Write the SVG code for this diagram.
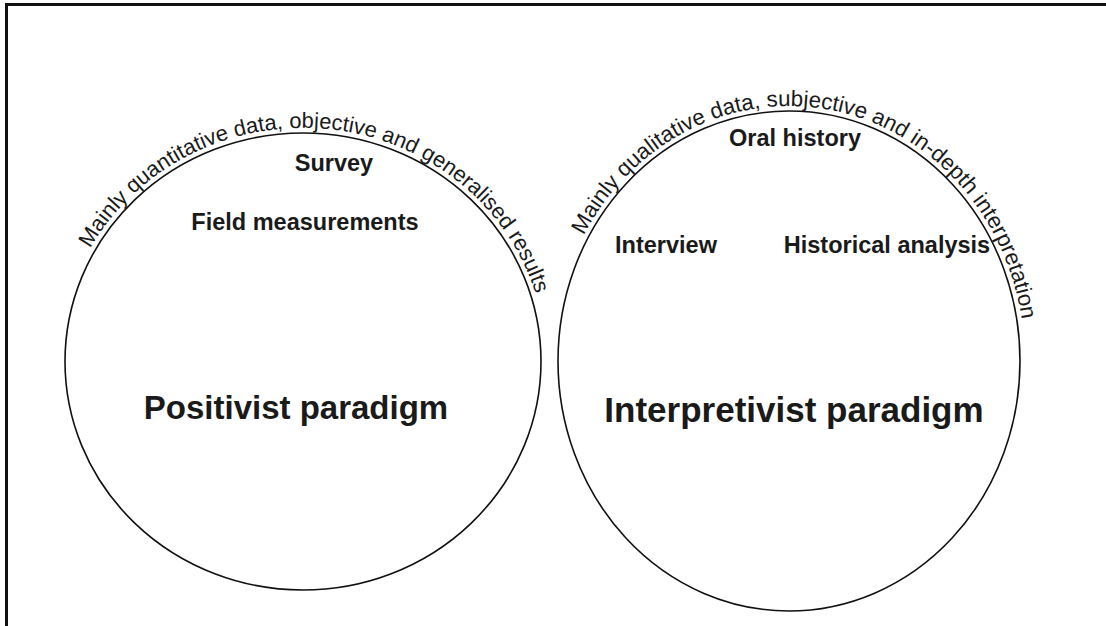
<svg xmlns="http://www.w3.org/2000/svg" xmlns:xlink="http://www.w3.org/1999/xlink" width="1106" height="626" viewBox="0 0 1106 626">
  <style>
    .frame { fill: none; stroke: #111; stroke-width: 3; }
    .ring { fill: none; stroke: #111; stroke-width: 1.6; }
    .arc-label { font-family: "Liberation Sans", Arial, sans-serif; fill: #1a1a1a; }
    .method { font-family: "Liberation Sans", Arial, sans-serif; font-size: 23.5px; font-weight: bold; fill: #1a1a1a; text-anchor: middle; }
    .paradigm { font-family: "Liberation Sans", Arial, sans-serif; font-weight: bold; fill: #1a1a1a; text-anchor: middle; }
  </style>
  <defs>
    <!-- baselines for the curved captions, a few pixels outside each ring, running clockwise from the left -->
    <path id="arc-left" d="M 60 361.5 A 243 233.5 0 1 1 546 361.5 A 243 233.5 0 1 1 60 361.5"/>
    <path id="arc-right" d="M 553 361 A 236 255 0 1 1 1025 361 A 236 255 0 1 1 553 361"/>
  </defs>

  <rect width="1106" height="626" fill="#ffffff"/>
  <rect class="frame" x="6.5" y="4.5" width="1110" height="640"/>

  <g id="positivist">
    <ellipse class="ring" cx="303" cy="361.5" rx="238" ry="228.5"/>
    <text class="arc-label" font-size="21.9"><textPath xlink:href="#arc-left" href="#arc-left" startOffset="399" text-anchor="middle">Mainly quantitative data, objective and generalised results</textPath></text>
    <text class="method" x="334" y="171">Survey</text>
    <text class="method" x="305" y="230">Field measurements</text>
    <text class="paradigm" x="296" y="419" font-size="33">Positivist paradigm</text>
  </g>

  <g id="interpretivist">
    <ellipse class="ring" cx="789" cy="361" rx="231" ry="250"/>
    <text class="arc-label" font-size="22.3"><textPath xlink:href="#arc-right" href="#arc-right" startOffset="430" text-anchor="middle">Mainly qualitative data, subjective and in-depth interpretation</textPath></text>
    <text class="method" x="795" y="146">Oral history</text>
    <text class="method" x="666" y="253">Interview</text>
    <text class="method" x="887" y="253">Historical analysis</text>
    <text class="paradigm" x="794" y="422" font-size="35">Interpretivist paradigm</text>
  </g>

  <g id="connectors"/>
</svg>
